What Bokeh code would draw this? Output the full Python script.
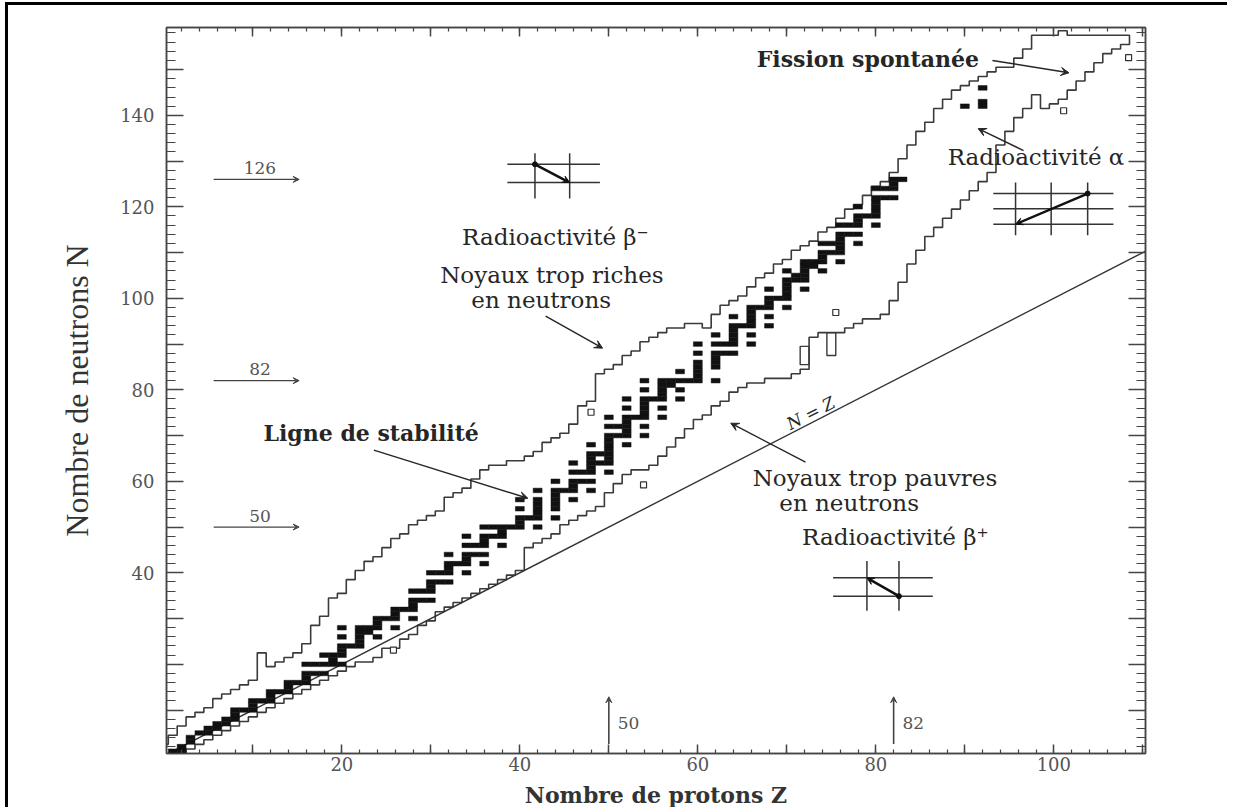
import numpy as np
from bokeh.plotting import figure
from bokeh.models import Range1d, LinearAxis, FixedTicker, Arrow, VeeHead, Label
from bokeh.embed import file_html
from bokeh.resources import INLINE

# ---------------- data ----------------
Z_cells = list(range(0, 109))
# upper limit of known nuclei (neutron-rich side)
N_max = [2, 4, 6, 8, 9, 10, 12, 13, 14, 15, 16,
         22, 19, 20, 21, 22, 24, 28, 30, 34, 35,
         38, 40, 42, 43, 45, 47, 48, 50, 51, 52,
         53, 56, 57, 58, 60, 62, 63, 63, 64, 64,
         65, 66, 68, 69, 70, 72, 76, 77, 83, 84,
         85, 87, 88, 90, 91, 92, 93, 93, 94, 94,
         93, 96, 98, 99, 100, 102, 104, 105, 107, 108,
         110, 111, 112, 114, 115, 117, 119, 120, 122, 124,
         125, 127, 130, 133, 136, 138, 141, 143, 145, 146,
         147, 148, 149, 150, 150, 152, 154, 157, 157, 157,
         158, 157, 157, 157, 157, 157, 157, 157]
# lower limit of known nuclei (neutron-poor side)
N_min = [0, 0, 1, 2, 3, 4, 5, 6, 7, 8, 9,
         10, 11, 12, 13, 14, 15, 16, 17, 18, 19,
         20, 21, 21, 22, 24, 24, 26, 27, 29, 30,
         32, 33, 34, 35, 36, 37, 38, 39, 40, 41,
         46, 47, 48, 49, 51, 52, 53, 54, 55, 58,
         60, 62, 63, 63, 64, 66, 68, 70, 72, 74,
         75, 77, 78, 80, 81, 82, 82, 83, 83, 83,
         84, 85, 92, 93, 93, 93, 94, 95, 96, 96,
         97, 100, 104, 108, 111, 114, 116, 118, 120, 122,
         124, 126, 128, 134, 137, 140, 142, 145, 142, 143,
         144, 146, 148, 150, 152, 154, 155, 156]

# stable nuclei: neutron numbers for Z = 1 .. 83
stable_N_per_Z = [
    [0, 1], [1, 2], [3, 4], [5], [5, 6], [6, 7], [7, 8], [8, 9, 10], [10], [10, 11, 12],
    [12], [12, 13, 14], [14], [14, 15, 16], [16], [16, 17, 18, 20], [18, 20], [18, 20, 22],
    [20, 21, 22], [20, 22, 23, 24, 26, 28], [24], [24, 25, 26, 27, 28], [27, 28],
    [26, 28, 29, 30], [30], [28, 30, 31, 32], [32], [30, 32, 33, 34, 36], [34, 36],
    [34, 36, 37, 38, 40], [38, 40], [38, 40, 41, 42, 44], [42], [40, 42, 43, 44, 46, 48],
    [44, 46], [42, 44, 46, 47, 48, 50], [48, 50], [46, 48, 49, 50], [50],
    [50, 51, 52, 54, 56], [52], [50, 52, 53, 54, 55, 56, 58], [],
    [52, 54, 55, 56, 57, 58, 60], [58], [56, 58, 59, 60, 62, 64], [60, 62],
    [58, 60, 62, 63, 64, 65, 66, 68], [64, 66], [62, 64, 65, 66, 67, 68, 69, 70, 72, 74],
    [70, 72], [68, 70, 71, 72, 73, 74, 76, 78], [74], [70, 72, 74, 75, 76, 77, 78, 80, 82],
    [78], [74, 76, 78, 79, 80, 81, 82], [81, 82], [78, 80, 82, 84], [82],
    [82, 83, 84, 85, 86, 88, 90], [], [82, 85, 86, 87, 88, 90, 92], [88, 90],
    [88, 90, 91, 92, 93, 94, 96], [94], [90, 92, 94, 95, 96, 97, 98], [98],
    [94, 96, 98, 99, 100, 102], [100], [98, 100, 101, 102, 103, 104, 106], [104, 105],
    [102, 104, 105, 106, 107, 108], [107, 108], [106, 108, 109, 110, 112], [110, 112],
    [108, 110, 111, 112, 113, 114, 116], [114, 116], [112, 114, 116, 117, 118, 120], [118],
    [116, 118, 119, 120, 121, 122, 124], [122, 124], [122, 124, 125, 126], [126],
]
long_lived_Z = [90, 92, 92, 92]
long_lived_N = [142, 142, 143, 146]

island_Z = [72, 75]
island_N_low = [86, 88]
island_N_high = [89, 92]

marked_Z = [25.8, 48.0, 53.9, 75.5, 101.1, 108.4]
marked_N = [23.1, 75.1, 59.2, 96.9, 141.0, 152.6]

magic_N = [50, 82, 126]
magic_Z = [50, 82]
diagonal = [0, 111]

x_major = list(range(10, 111, 10))
x_minor = list(range(2, 111, 2))
x_labelled = [20, 40, 60, 80, 100]
y_major = list(range(10, 160, 10))
y_minor = list(range(2, 160, 2))
y_labelled = [40, 60, 80, 100, 120, 140]

# ---------------- figure ----------------
SERIF = "DejaVu Serif"
INK = "#262626"
p = figure(width=1222, height=805, output_backend="svg", toolbar_location=None,
           x_range=Range1d(0.3, 110.3), y_range=Range1d(0.5, 159.2),
           min_border_left=158, min_border_right=85, min_border_top=22, min_border_bottom=56,
           background_fill_color="white", border_fill_color="white")
p.styles = {"border-top": "3px solid black", "border-left": "3px solid black",
            "margin-left": "5px", "margin-top": "2px"}
p.xgrid.visible = False
p.ygrid.visible = False
p.outline_line_color = "#444444"
p.outline_line_width = 1.5

xt = FixedTicker(ticks=x_major, minor_ticks=x_minor)
yt = FixedTicker(ticks=y_major, minor_ticks=y_minor)


def style_axis(ax, horizontal):
    ax.axis_line_color = "#444444"
    ax.axis_line_width = 1.5
    ax.major_tick_line_color = "#444444"
    ax.minor_tick_line_color = "#444444"
    ax.major_tick_line_width = 1.5
    ax.minor_tick_line_width = 1.2
    ax.major_tick_out = 0
    ax.minor_tick_out = 0
    if horizontal:
        ax.major_tick_in = 9
        ax.minor_tick_in = 4
    else:
        ax.major_tick_in = 17
        ax.minor_tick_in = 9
    ax.major_label_text_font = SERIF
    ax.major_label_text_font_size = "18px"
    ax.major_label_text_color = "#555555"
    ax.axis_label_text_font = SERIF
    ax.axis_label_text_color = "#333333"


p.xaxis.ticker = xt
p.yaxis.ticker = yt
p.xaxis.major_label_overrides = {t: (str(t) if t in x_labelled else "") for t in x_major}
p.yaxis.major_label_overrides = {t: (str(t) if t in y_labelled else "") for t in y_major}
style_axis(p.xaxis[0], True)
style_axis(p.yaxis[0], False)
p.xaxis.major_label_standoff = 3
p.yaxis.major_label_standoff = 12

p.xaxis.axis_label = "Nombre de protons Z"
p.xaxis.axis_label_text_font_size = "22px"
p.xaxis.axis_label_text_font_style = "bold"
p.xaxis.axis_label_standoff = 8
p.yaxis.axis_label = "Nombre de neutrons N"
p.yaxis.axis_label_text_font = "Liberation Serif"
p.yaxis.axis_label_text_font_size = "32px"
p.yaxis.axis_label_text_font_style = "normal"
p.yaxis.axis_label_standoff = 22

top = LinearAxis(ticker=xt)
style_axis(top, True)
top.major_label_overrides = {t: "" for t in x_major}
top.major_label_standoff = 0
p.add_layout(top, "above")
right = LinearAxis(ticker=yt)
style_axis(right, False)
right.major_label_overrides = {t: "" for t in y_major}
right.major_label_standoff = 0
p.add_layout(right, "right")

# ---------------- contour of known nuclei ----------------
zc = np.array(Z_cells, dtype=float)
ux = np.repeat(zc, 2) + np.tile([-0.5, 0.5], len(zc))
uy = np.repeat(np.array(N_max, dtype=float) + 0.5, 2)
ly = np.repeat(np.array(N_min, dtype=float) - 0.5, 2)
cx = np.concatenate([ux, ux[::-1], ux[:1]])
cy = np.concatenate([uy, ly[::-1], uy[:1]])
p.line(cx, cy, line_color="#3a3a3a", line_width=1.6)

p.quad(left=np.array(island_Z) - 0.5, right=np.array(island_Z) + 0.5,
       bottom=np.array(island_N_low) - 0.5, top=np.array(island_N_high) + 0.5,
       fill_color=None, line_color="#3a3a3a", line_width=1.4)

# N = Z line
p.line(diagonal, diagonal, line_color="#333333", line_width=1.4)

# stable nuclei
sz, sn = [], []
for z, ns in enumerate(stable_N_per_Z, start=1):
    for n in ns:
        sz.append(z)
        sn.append(n)
p.rect(sz, sn, width=1, height=1, fill_color="#111111", line_color="#111111", line_width=0.5)
p.rect(long_lived_Z, long_lived_N, width=1, height=1, fill_color="#111111",
       line_color="#111111", line_width=0.5)

p.scatter(marked_Z, marked_N, marker="square", size=6, fill_color="white",
          line_color="#333333", line_width=1.2)

# ---------------- magic numbers ----------------
for n in magic_N:
    p.add_layout(Arrow(end=VeeHead(size=6, fill_color="#444444", line_color="#444444"),
                       x_start=5.6, y_start=n, x_end=15.2, y_end=n,
                       line_color="#444444", line_width=1.2))
    p.add_layout(Label(x=10.8, y=n + 2.5, text=str(n), text_font=SERIF, text_font_size="17px",
                       text_align="center", text_baseline="middle", text_color="#555555"))
for z in magic_Z:
    p.add_layout(Arrow(end=VeeHead(size=6, fill_color="#444444", line_color="#444444"),
                       x_start=z, y_start=2.6, x_end=z, y_end=12.9,
                       line_color="#444444", line_width=1.6))
    p.add_layout(Label(x=z + 1.0, y=7.2, text=str(z), text_font=SERIF, text_font_size="17px",
                       text_align="left", text_baseline="middle", text_color="#555555"))

# ---------------- decay icons ----------------
def icon(vz, vn_span, hn, hz_span, a_from, a_to):
    xs = [[z, z] for z in vz] + [list(hz_span) for _ in hn]
    ys = [list(vn_span) for _ in vz] + [[n, n] for n in hn]
    p.multi_line(xs, ys, line_color="#333333", line_width=1.5)
    p.add_layout(Arrow(end=VeeHead(size=7, fill_color="#111111", line_color="#111111"),
                       x_start=a_from[0], y_start=a_from[1], x_end=a_to[0], y_end=a_to[1],
                       line_color="#111111", line_width=2.5))
    p.scatter([a_from[0]], [a_from[1]], size=5, fill_color="#111111", line_color="#111111")

icon([41.7, 45.6], (121.8, 131.7), [129.3, 125.3], (38.6, 49.0), (41.7, 129.3), (45.6, 125.3))
icon([79.0, 82.6], (31.7, 42.6), [38.9, 34.9], (75.2, 86.4), (82.6, 34.9), (79.0, 38.9))
icon([95.7, 99.7, 103.8], (113.8, 125.3), [122.9, 119.6, 116.2], (93.2, 106.7),
     (103.8, 122.9), (95.7, 116.2))

# ---------------- annotations ----------------
def txt(x, y, s, size="23px", style="normal", angle=0.0, font=SERIF, color=INK):
    p.add_layout(Label(x=x, y=y, text=s, text_font=font, text_font_size=size,
                       text_font_style=style, text_align="center", text_baseline="middle",
                       angle=angle, text_color=color))

def arrow(x0, y0, x1, y1):
    p.add_layout(Arrow(end=VeeHead(size=8, fill_color=INK, line_color=INK),
                       x_start=x0, y_start=y0, x_end=x1, y_end=y1,
                       line_color=INK, line_width=1.4))

txt(79.1, 152.4, "Fission spontanée", size="22px", style="bold")
arrow(93.1, 152.0, 101.7, 149.3)
txt(98.0, 130.8, "Radioactivité α")
arrow(96.6, 132.3, 91.5, 137.1)
txt(44.0, 113.3, "Radioactivité β⁻")
txt(43.6, 105.2, "Noyaux trop riches")
txt(42.4, 99.6, "en neutrons")
arrow(42.9, 96.1, 49.3, 89.1)
txt(23.3, 70.5, "Ligne de stabilité", size="22px", style="bold")
arrow(23.6, 66.8, 40.9, 56.3)
txt(79.9, 60.7, "Noyaux trop pauvres")
txt(77.0, 55.3, "en neutrons")
arrow(72.1, 64.2, 63.7, 72.7)
txt(82.2, 47.9, "Radioactivité β⁺")
txt(72.7, 74.9, "N = Z", size="17px", style="italic", angle=0.475)

open("out.html", "w").write(file_html(p, INLINE))
